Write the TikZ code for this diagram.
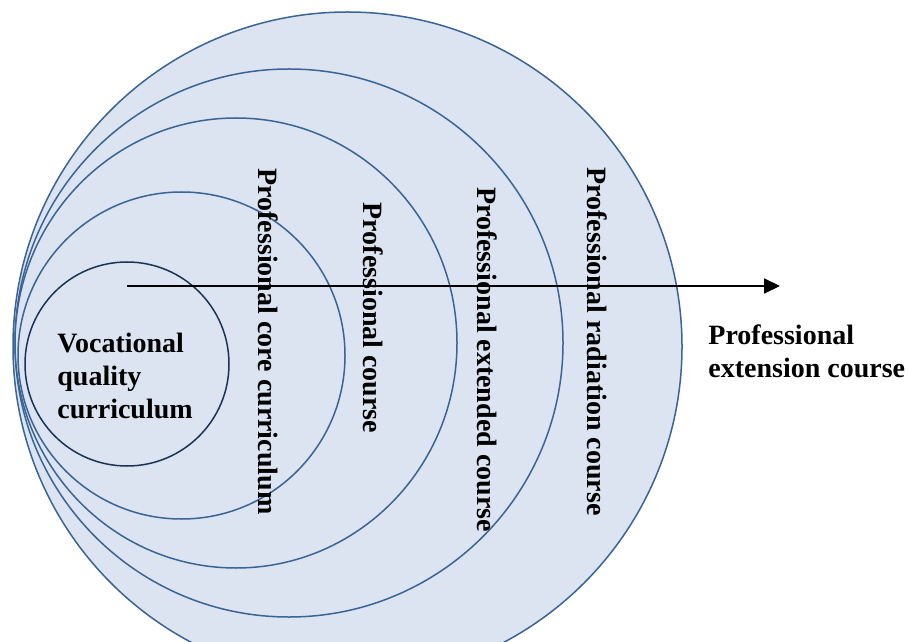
\documentclass[tikz,border=0pt]{standalone}
\usepackage{fontspec}
\setmainfont{Liberation Serif}
\usepackage{tikz}
\usetikzlibrary{arrows.meta, positioning, shapes.geometric}
\definecolor{ringfill}{HTML}{DBE4F0}
\definecolor{ringline}{HTML}{3A6496}
\definecolor{coreline}{HTML}{1B3357}
\tikzstyle{ring} = [circle, draw=ringline, fill=ringfill, line width=0.75pt, inner sep=0pt]
\tikzstyle{ringtext} = [rotate=-90, inner sep=0pt, font=\fontsize{14}{16.5}\selectfont\bfseries]
\tikzstyle{plaintext} = [anchor=west, align=left, inner sep=0pt, font=\fontsize{14}{16.5}\selectfont\bfseries]
\tikzstyle{arrow} = [line width=1pt, -{Triangle[length=8pt,width=7.5pt]}]

\begin{document}
\begin{tikzpicture}[x=0.5pt, y=-0.5pt]
        \useasboundingbox (0,0) rectangle (908,641);
        \clip (0,0) rectangle (908,641);
        \node[ring, minimum size=334.5pt] (r4) at (347.5,346.5) {};
        \node[ring, minimum size=274pt] (r3) at (289,343) {};
        \node[ring, ellipse, minimum width=221pt, minimum height=225pt] (r2) at (236,343) {};
        \node[ring, minimum size=163.5pt] (r1) at (181.5,355.5) {};
        \node[ring, draw=coreline, minimum size=102pt] (r0) at (127,364) {};
        \node[plaintext] (t0) at (57,376) {Vocational\\quality\\curriculum};
        \node[ringtext] (t1) at (268,341.5) {Professional core curriculum};
        \node[ringtext] (t2) at (373,318) {Professional course};
        \node[ringtext] (t3) at (487,359.5) {Professional extended course};
        \node[ringtext] (t4) at (597,341.5) {Professional radiation course};
        \node[plaintext] (t5) at (708,351) {Professional\\extension course};
        \coordinate (start) at (127,286);
        \coordinate (tip) at (780,286);
        \draw[arrow] (start) -- (tip);
    \end{tikzpicture}
\end{document}
